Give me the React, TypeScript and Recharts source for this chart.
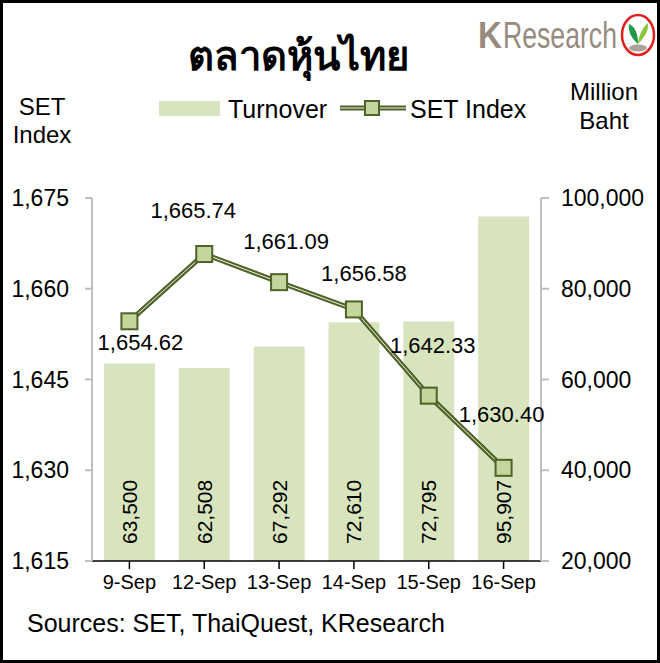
import React from 'react';
import { ComposedChart, Bar, Line, XAxis, YAxis, LabelList } from 'recharts';

const dates = ['9-Sep', '12-Sep', '13-Sep', '14-Sep', '15-Sep', '16-Sep'];
const turnover = [63500, 62508, 67292, 72610, 72795, 95907];
const setIndex = [1654.62, 1665.74, 1661.09, 1656.58, 1642.33, 1630.4];
const leftTicks = [1615, 1630, 1645, 1660, 1675];
const rightTicks = [20000, 40000, 60000, 80000, 100000];

const data = dates.map((d, i) => ({ date: d, turnover: turnover[i], setIndex: setIndex[i] }));

const FONT = '"Liberation Sans", Arial, sans-serif';
const BAR_FILL = '#d7e4bd';
const LINE_DARK = '#4f6228';
const MARKER_FILL = '#c3d69b';

// manual label nudges (like Excel's hand-placed labels)
const lineLabelNudge: [number, number][] = [
  [11, 21],
  [-11, -44],
  [7, -41],
  [10, -36],
  [4, -50],
  [-2, -53],
];

const fmtInt = (v: number) => v.toLocaleString('en-US');
const fmt2 = (v: number) =>
  v.toLocaleString('en-US', { minimumFractionDigits: 2, maximumFractionDigits: 2 });

const BarLabel = (props: any) => {
  const { x, y, width, height, value } = props;
  const cx = Number(x) + Number(width) / 2;
  const bottom = Number(y) + Number(height);
  const ty = bottom - 17;
  return (
    <text
      x={cx}
      y={ty}
      transform={`rotate(-90 ${cx} ${ty})`}
      textAnchor="start"
      dominantBaseline="central"
      fontSize={21}
      fontFamily={FONT}
      fill="#000"
    >
      {fmtInt(Number(value))}
    </text>
  );
};

const LineLabel = (props: any) => {
  const { x, y, value, index } = props;
  const n = lineLabelNudge[index] || [0, -30];
  return (
    <text
      x={Number(x) + n[0]}
      y={Number(y) + n[1]}
      textAnchor="middle"
      dominantBaseline="central"
      fontSize={22}
      fontFamily={FONT}
      fill="#000"
    >
      {fmt2(Number(value))}
    </text>
  );
};

const SquareDot = (props: any) => {
  const { cx, cy, index } = props;
  if (cx == null || cy == null) return null;
  return (
    <rect
      key={`d${index}`}
      x={cx - 8}
      y={cy - 8}
      width={16}
      height={16}
      fill={MARKER_FILL}
      stroke={LINE_DARK}
      strokeWidth={2}
    />
  );
};

const textStyle: React.CSSProperties = {
  position: 'absolute',
  fontFamily: FONT,
  color: '#000',
  lineHeight: 1,
  whiteSpace: 'nowrap',
};

export default function App() {
  return (
    <div
      style={{
        position: 'fixed',
        left: 0,
        top: 0,
        width: 660,
        height: 663,
        background: '#fff',
        overflow: 'hidden',
      }}
    >
      <ComposedChart
        width={660}
        height={663}
        data={data}
        margin={{ top: 198, right: 0, bottom: 72, left: 0 }}
        barCategoryGap="16%"
      >
        <XAxis
          dataKey="date"
          axisLine={{ stroke: '#000', strokeWidth: 1.5 }}
          tickLine={{ stroke: '#000', strokeWidth: 1.5 }}
          tickSize={8}
          tickMargin={6}
          height={30}
          interval={0}
          tick={{ fontSize: 20, fill: '#000', fontFamily: FONT }}
        />
        <YAxis
          yAxisId="left"
          orientation="left"
          width={92}
          domain={[1615, 1675]}
          ticks={leftTicks}
          tickFormatter={fmtInt}
          axisLine={{ stroke: '#bfbfbf', strokeWidth: 2 }}
          tickLine={{ stroke: '#bfbfbf', strokeWidth: 2 }}
          tickSize={7}
          tickMargin={16}
          tick={{ fontSize: 23, fill: '#000', fontFamily: FONT }}
          allowDataOverflow
        />
        <YAxis
          yAxisId="right"
          orientation="right"
          width={119}
          domain={[20000, 100000]}
          ticks={rightTicks}
          tickFormatter={fmtInt}
          axisLine={{ stroke: '#bfbfbf', strokeWidth: 2 }}
          tickLine={{ stroke: '#bfbfbf', strokeWidth: 2 }}
          tickSize={8}
          tickMargin={12}
          tick={{ fontSize: 23, fill: '#000', fontFamily: FONT }}
          allowDataOverflow
        />
        <Bar yAxisId="right" dataKey="turnover" fill={BAR_FILL} isAnimationActive={false}>
          <LabelList dataKey="turnover" content={BarLabel} />
        </Bar>
        <Line
          yAxisId="left"
          dataKey="setIndex"
          stroke={LINE_DARK}
          strokeWidth={5}
          dot={false}
          activeDot={false}
          isAnimationActive={false}
        />
        <Line
          yAxisId="left"
          dataKey="setIndex"
          stroke="#eef3e4"
          strokeWidth={1}
          dot={<SquareDot />}
          activeDot={false}
          isAnimationActive={false}
        >
          <LabelList dataKey="setIndex" content={LineLabel} />
        </Line>
      </ComposedChart>

      {/* Title */}
      <div
        style={{
          ...textStyle,
          left: 298,
          top: 55,
          transform: 'translate(-50%, -50%)',
          fontSize: 40,
          fontWeight: 'bold',
          fontFamily: '"Noto Sans", "DejaVu Sans", sans-serif',
        }}
      >
        ตลาดหุ้นไทย
      </div>

      {/* Logo */}
      <svg style={{ position: 'absolute', left: 470, top: 8 }} width={186} height={54}>
        <text
          x={8}
          y={40}
          fontSize={36}
          fontWeight="bold"
          fontFamily={FONT}
          fill="#978b80"
          textLength={24}
          lengthAdjust="spacingAndGlyphs"
        >
          K
        </text>
        <text
          x={33}
          y={40}
          fontSize={36}
          fontFamily={FONT}
          fill="#978b80"
          textLength={114}
          lengthAdjust="spacingAndGlyphs"
        >
          Research
        </text>
        <ellipse cx={168} cy={27} rx={16} ry={20} fill="#fff" stroke="#e0201e" strokeWidth={2.5} />
        <path d="M168 36 C 161 30, 158 23, 159 16 C 165 19, 168 25, 168 36 Z" fill="#1f9a48" />
        <path d="M168 36 C 169 26, 173 19, 178 15 C 179 23, 174 30, 168 36 Z" fill="#8cc63f" />
        <ellipse cx={168} cy={40} rx={9} ry={3.5} fill="#a9a29a" />
      </svg>

      {/* Axis titles */}
      <div style={{ ...textStyle, left: 42, top: 107, transform: 'translate(-50%, -50%)', fontSize: 24 }}>SET</div>
      <div style={{ ...textStyle, left: 42, top: 135, transform: 'translate(-50%, -50%)', fontSize: 24 }}>Index</div>
      <div style={{ ...textStyle, left: 604, top: 92, transform: 'translate(-50%, -50%)', fontSize: 24 }}>Million</div>
      <div style={{ ...textStyle, left: 604, top: 121, transform: 'translate(-50%, -50%)', fontSize: 24 }}>Baht</div>

      {/* Legend */}
      <div style={{ position: 'absolute', left: 159, top: 101, width: 61, height: 15, background: BAR_FILL }} />
      <div style={{ ...textStyle, left: 228, top: 109, transform: 'translateY(-50%)', fontSize: 25 }}>Turnover</div>
      <svg style={{ position: 'absolute', left: 340, top: 98 }} width={66} height={20}>
        <line x1={0} y1={10} x2={66} y2={10} stroke={LINE_DARK} strokeWidth={5} />
        <line x1={0} y1={10} x2={66} y2={10} stroke="#eef3e4" strokeWidth={1} />
        <rect x={25} y={3} width={14} height={14} fill={MARKER_FILL} stroke={LINE_DARK} strokeWidth={2} />
      </svg>
      <div style={{ ...textStyle, left: 410, top: 109, transform: 'translateY(-50%)', fontSize: 25 }}>SET Index</div>

      {/* Source */}
      <div style={{ ...textStyle, left: 27, top: 623, transform: 'translateY(-50%)', fontSize: 25 }}>
        Sources: SET, ThaiQuest, KResearch
      </div>

      {/* Frame */}
      <div
        style={{
          position: 'absolute',
          left: 0,
          top: 0,
          width: 660,
          height: 663,
          boxSizing: 'border-box',
          border: '3px solid #000',
          pointerEvents: 'none',
        }}
      />
    </div>
  );
}
